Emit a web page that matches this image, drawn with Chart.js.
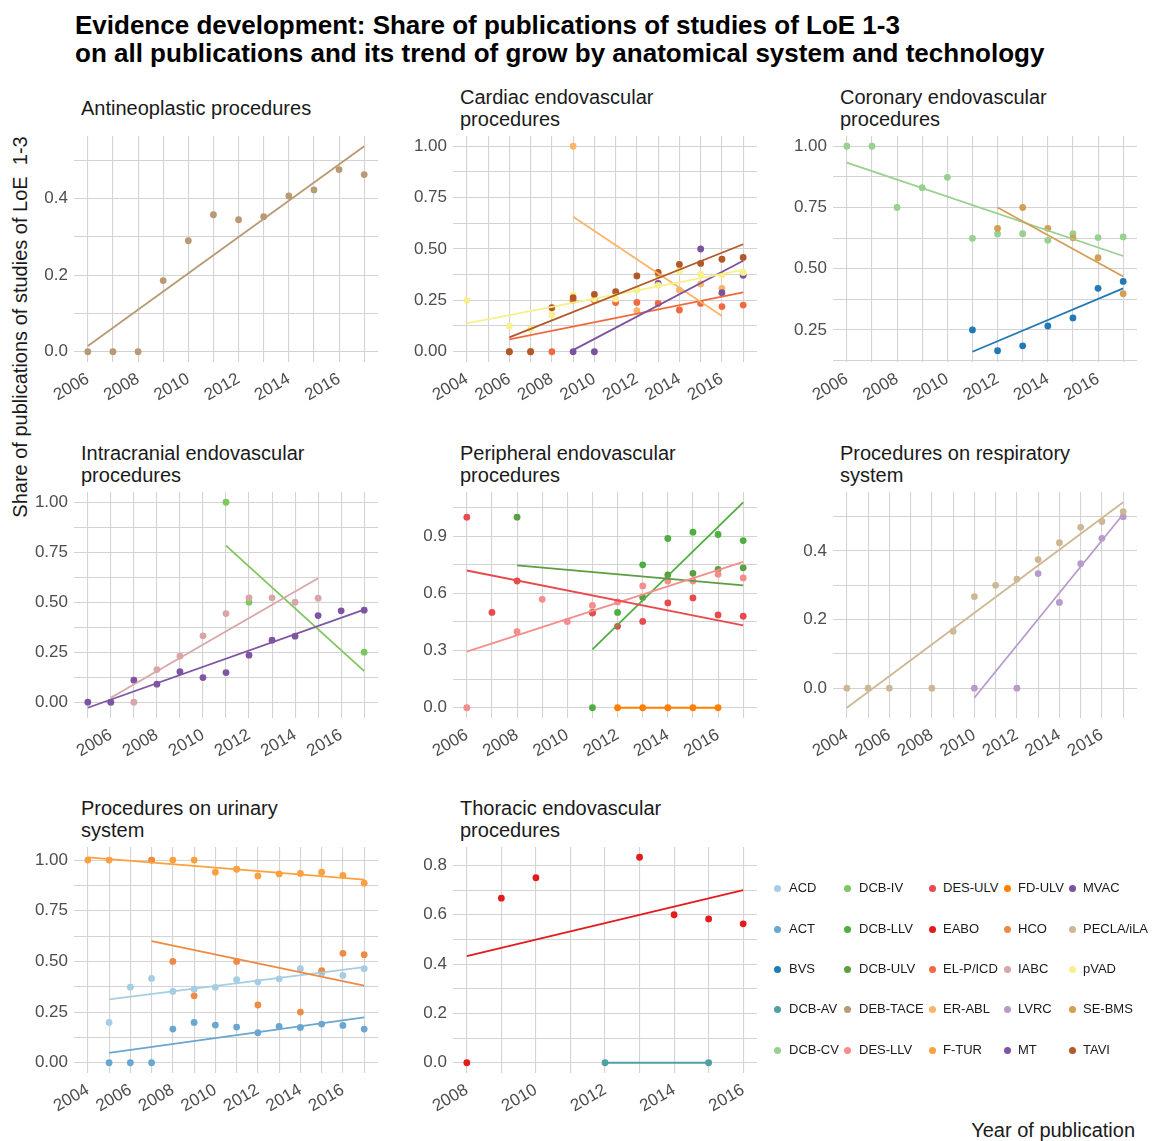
<!DOCTYPE html>
<html>
<head>
<meta charset="utf-8">
<script src="https://cdn.jsdelivr.net/npm/chart.js@4.4.1/dist/chart.umd.min.js"></script>
<style>
  body { margin: 0; width: 1152px; height: 1141px; background: #fff; position: relative; overflow: hidden;
         font-family: "Liberation Sans", Arial, sans-serif; }
  .abs { position: absolute; }
  #titulo { left: 75px; top: 11px; font-weight: bold; font-size: 26px; line-height: 28px; color: #000; white-space: pre; }
  .strip { font-size: 20px; line-height: 22px; color: #1a1a1a; white-space: pre; }
  #ytitle { left: 20px; top: 327px; font-size: 20px; color: #1a1a1a; white-space: pre;
            transform: translate(-50%, -50%) rotate(-90deg); }
  #xtitle { right: 17px; top: 1119px; font-size: 20px; color: #1a1a1a; }
  .dot { width: 7px; height: 7px; border-radius: 50%; }
  .ltxt { font-size: 13px; color: #1a1a1a; line-height: 16px; }
  canvas { position: absolute; }
</style>
</head>
<body>
<div id="titulo" class="abs">Evidence development: Share of publications of studies of LoE 1-3
on all publications and its trend of grow by anatomical system and technology</div>
<div id="ytitle" class="abs">Share of publications of studies of LoE  1-3</div>
<div id="xtitle" class="abs">Year of publication</div>

<script>
// technologies, in legend order
const techNames = ['ACD', 'ACT', 'BVS', 'DCB-AV', 'DCB-CV', 'DCB-IV', 'DCB-LLV', 'DCB-ULV', 'DEB-TACE', 'DES-LLV',
    'DES-ULV', 'EABO', 'EL-P/ICD', 'ER-ABL', 'F-TUR', 'FD-ULV', 'HCO', 'IABC', 'LVRC', 'MT',
    'MVAC', 'PECLA/iLA', 'pVAD', 'SE-BMS', 'TAVI'];
const techColors = ['#a6cee3', '#69a7d0', '#2279b5', '#4f9fa4', '#98d08f', '#7fc65f', '#4daf3f', '#5c9e42', '#b89a74', '#f68d8c',
    '#e94a4d', '#e31b1c', '#f16a3f', '#fcb466', '#fda03f', '#ff7f00', '#ee8a44', '#d9a6a8', '#b79bcc', '#7e55a3',
    '#7b52a0', '#cdb896', '#f7f08c', '#d59e55', '#b15928'];

const panelTitles = ['Antineoplastic procedures', 'Cardiac endovascular\nprocedures', 'Coronary endovascular\nprocedures',
    'Intracranial endovascular\nprocedures', 'Peripheral endovascular\nprocedures', 'Procedures on respiratory\nsystem',
    'Procedures on urinary\nsystem', 'Thoracic endovascular\nprocedures'];
const panelTechs = [
    ['DEB-TACE'],
    ['EL-P/ICD', 'ER-ABL', 'MVAC', 'pVAD', 'TAVI'],
    ['BVS', 'DCB-CV', 'SE-BMS'],
    ['DCB-IV', 'IABC', 'MT'],
    ['DCB-LLV', 'DCB-ULV', 'DES-LLV', 'DES-ULV', 'FD-ULV'],
    ['LVRC', 'PECLA/iLA'],
    ['ACD', 'ACT', 'F-TUR', 'HCO'],
    ['DCB-AV', 'EABO']
];
const yMajorStep = [0.2, 0.25, 0.25, 0.25, 0.3, 0.2, 0.25, 0.2];
const yDigits = [1, 2, 2, 2, 1, 1, 2, 1];

// share of LoE 1-3 publications per year, and the ends of the fitted trend line
const debTaceYears = [2006, 2007, 2008, 2009, 2010, 2011, 2012, 2013, 2014, 2015, 2016, 2017];
const debTaceShare = [0, 0, 0, 0.186, 0.29, 0.358, 0.345, 0.353, 0.407, 0.423, 0.476, 0.463];
const debTaceFit = [0.015, 0.537];

const elpYears = [2006, 2007, 2008, 2009, 2010, 2011, 2012, 2013, 2014, 2015, 2016, 2017];
const elpShare = [0, 0, 0, 0.25, 0.25, 0.239, 0.24, 0.235, 0.203, 0.235, 0.22, 0.227];
const elpFit = [0.06, 0.289];
const erAblYears = [2009, 2012, 2013, 2014, 2015, 2016];
const erAblShare = [1.0, 0.2, 0.375, 0.30, 0.33, 0.308];
const erAblFit = [0.657, 0.174];
const mvacYears = [2009, 2010, 2013, 2015, 2016, 2017];
const mvacShare = [0, 0, 0.333, 0.5, 0.287, 0.372];
const mvacFit = [0.008, 0.443];
const pvadYears = [2004, 2006, 2007, 2008, 2009, 2010, 2011, 2012, 2013, 2014, 2015, 2016, 2017];
const pvadShare = [0.25, 0.125, 0.111, 0.18, 0.276, 0.257, 0.257, 0.30, 0.323, 0.393, 0.378, 0.373, 0.386];
const pvadFit = [0.138, 0.398];
const taviYears = [2006, 2007, 2008, 2009, 2010, 2011, 2012, 2013, 2014, 2015, 2016, 2017];
const taviShare = [0, 0, 0.214, 0.263, 0.279, 0.292, 0.369, 0.386, 0.425, 0.43, 0.45, 0.459];
const taviFit = [0.07, 0.523];

const bvsYears = [2011, 2012, 2013, 2014, 2015, 2016, 2017];
const bvsShare = [0.25, 0.165, 0.185, 0.266, 0.299, 0.42, 0.448];
const bvsFit = [0.161, 0.42];
const dcbCvYears = [2006, 2007, 2008, 2009, 2010, 2011, 2012, 2013, 2014, 2015, 2016, 2017];
const dcbCvShare = [1, 1, 0.75, 0.831, 0.873, 0.624, 0.642, 0.643, 0.616, 0.643, 0.627, 0.63];
const dcbCvFit = [0.933, 0.552];
const seBmsYears = [2012, 2013, 2014, 2015, 2016, 2017];
const seBmsShare = [0.665, 0.75, 0.665, 0.626, 0.545, 0.398];
const seBmsFit = [0.75, 0.468];

const dcbIvYears = [2011, 2012, 2017];
const dcbIvShare = [1, 0.5, 0.25];
const dcbIvFit = [0.783, 0.155];
const iabcYears = [2006, 2007, 2008, 2009, 2010, 2011, 2012, 2013, 2014, 2015];
const iabcShare = [0, 0, 0.163, 0.23, 0.332, 0.443, 0.522, 0.522, 0.5, 0.52];
const iabcFit = [0.022, 0.62];
const mtYears = [2005, 2006, 2007, 2008, 2009, 2010, 2011, 2012, 2013, 2014, 2015, 2016, 2017];
const mtShare = [0, 0, 0.11, 0.09, 0.152, 0.123, 0.148, 0.235, 0.31, 0.33, 0.433, 0.457, 0.46];
const mtFit = [-0.028, 0.463];

const dcbLlvYears = [2011, 2012, 2013, 2014, 2015, 2016, 2017];
const dcbLlvShare = [0, 0.5, 0.75, 0.888, 0.921, 0.909, 0.877];
const dcbLlvFit = [0.306, 1.078];
const dcbUlvYears = [2008, 2011, 2013, 2014, 2015, 2016, 2017];
const dcbUlvShare = [1, 0.5, 0.579, 0.697, 0.705, 0.726, 0.734];
const dcbUlvFit = [0.747, 0.642];
const desLlvYears = [2006, 2008, 2009, 2010, 2011, 2012, 2013, 2014, 2015, 2016, 2017];
const desLlvShare = [0, 0.399, 0.569, 0.452, 0.537, 0.555, 0.639, 0.665, 0.665, 0.70, 0.681];
const desLlvFit = [0.294, 0.765];
const desUlvYears = [2006, 2007, 2008, 2011, 2012, 2013, 2014, 2015, 2016, 2017];
const desUlvShare = [1, 0.5, 0.665, 0.497, 0.427, 0.453, 0.55, 0.576, 0.487, 0.48];
const desUlvFit = [0.72, 0.432];
const fdUlvYears = [2012, 2013, 2014, 2015, 2016];
const fdUlvShare = [0, 0, 0, 0, 0];
const fdUlvFit = [0, 0];

const lvrcYears = [2010, 2012, 2013, 2014, 2015, 2016, 2017];
const lvrcShare = [0, 0, 0.334, 0.25, 0.363, 0.437, 0.5];
const lvrcFit = [-0.028, 0.507];
const peclaYears = [2004, 2005, 2006, 2008, 2009, 2010, 2011, 2012, 2013, 2014, 2015, 2016, 2017];
const peclaShare = [0, 0, 0, 0, 0.166, 0.267, 0.30, 0.318, 0.375, 0.424, 0.469, 0.486, 0.515];
const peclaFit = [-0.057, 0.542];

const acdYears = [2005, 2006, 2007, 2008, 2009, 2010, 2011, 2012, 2013, 2014, 2015, 2016, 2017];
const acdShare = [0.199, 0.373, 0.416, 0.352, 0.363, 0.372, 0.41, 0.398, 0.414, 0.464, 0.442, 0.431, 0.464];
const acdFit = [0.3125, 0.472];
const actYears = [2005, 2006, 2007, 2008, 2009, 2010, 2011, 2012, 2013, 2014, 2015, 2016, 2017];
const actShare = [0, 0, 0, 0.166, 0.199, 0.186, 0.176, 0.148, 0.179, 0.174, 0.191, 0.184, 0.166];
const actFit = [0.049, 0.224];
const fTurYears = [2004, 2005, 2007, 2008, 2009, 2010, 2011, 2012, 2013, 2014, 2015, 2016, 2017];
const fTurShare = [1, 1, 1, 1, 1, 0.94, 0.955, 0.922, 0.932, 0.934, 0.94, 0.925, 0.886];
const fTurFit = [1.014, 0.904];
const hcoYears = [2007, 2008, 2009, 2011, 2012, 2014, 2015, 2016, 2017];
const hcoShare = [1, 0.5, 0.33, 0.5, 0.285, 0.25, 0.455, 0.54, 0.533];
const hcoFit = [0.6, 0.38];

const dcbAvYears = [2012, 2015];
const dcbAvShare = [0, 0];
const dcbAvFit = [0, 0];
const eaboYears = [2008, 2009, 2010, 2013, 2014, 2015, 2016];
const eaboShare = [0, 0.667, 0.75, 0.833, 0.6, 0.583, 0.563];
const eaboFit = [0.432, 0.70];

const seriesData = {
    'DEB-TACE': [debTaceYears, debTaceShare, debTaceFit],
    'EL-P/ICD': [elpYears, elpShare, elpFit],
    'ER-ABL': [erAblYears, erAblShare, erAblFit],
    'MVAC': [mvacYears, mvacShare, mvacFit],
    'pVAD': [pvadYears, pvadShare, pvadFit],
    'TAVI': [taviYears, taviShare, taviFit],
    'BVS': [bvsYears, bvsShare, bvsFit],
    'DCB-CV': [dcbCvYears, dcbCvShare, dcbCvFit],
    'SE-BMS': [seBmsYears, seBmsShare, seBmsFit],
    'DCB-IV': [dcbIvYears, dcbIvShare, dcbIvFit],
    'IABC': [iabcYears, iabcShare, iabcFit],
    'MT': [mtYears, mtShare, mtFit],
    'DCB-LLV': [dcbLlvYears, dcbLlvShare, dcbLlvFit],
    'DCB-ULV': [dcbUlvYears, dcbUlvShare, dcbUlvFit],
    'DES-LLV': [desLlvYears, desLlvShare, desLlvFit],
    'DES-ULV': [desUlvYears, desUlvShare, desUlvFit],
    'FD-ULV': [fdUlvYears, fdUlvShare, fdUlvFit],
    'LVRC': [lvrcYears, lvrcShare, lvrcFit],
    'PECLA/iLA': [peclaYears, peclaShare, peclaFit],
    'ACD': [acdYears, acdShare, acdFit],
    'ACT': [actYears, actShare, actFit],
    'F-TUR': [fTurYears, fTurShare, fTurFit],
    'HCO': [hcoYears, hcoShare, hcoFit],
    'DCB-AV': [dcbAvYears, dcbAvShare, dcbAvFit],
    'EABO': [eaboYears, eaboShare, eaboFit]
};

// layout of the facet grid
const colLeft = [74, 453, 833];
const rowTop = [136, 492, 847];
const plotW = 304, plotH = 226;
const axisW = 64, axisH = 60;
const padTop = 24, padRight = 12;
const gridColor = '#d3d3d3';
const tickColor = '#4d4d4d';
const tickFont = { family: '"Liberation Sans", Arial, sans-serif', size: 17 };

function agregar(tag, cls, txt, left, top) {
    const el = document.createElement(tag);
    el.className = cls;
    if (txt) el.textContent = txt;
    el.style.left = left + 'px';
    el.style.top = top + 'px';
    document.body.appendChild(el);
    return el;
}

panelTitles.forEach((titulo, p) => {
    const col = p % 3, row = Math.floor(p / 3);
    const left = colLeft[col], top = rowTop[row];
    const lineas = titulo.split('\n').length;
    agregar('div', 'abs strip', titulo, left + 7, top - 28 - lineas * 11);

    const techs = panelTechs[p];
    let xs = [], ys = [];
    techs.forEach(n => {
        const [yr, sh, fit] = seriesData[n];
        xs.push(...yr);
        ys.push(...sh, ...fit);
    });
    const x0 = Math.min(...xs), x1 = Math.max(...xs);
    const y0 = Math.min(...ys), y1 = Math.max(...ys);
    const xMin = x0 - (x1 - x0) * 0.05, xMax = x1 + (x1 - x0) * 0.05;
    const yMin = y0 - (y1 - y0) * 0.05, yMax = y1 + (y1 - y0) * 0.05;

    let xTicks = [];
    for (let v = Math.ceil(xMin); v <= xMax; v++) xTicks.push(v);
    const half = yMajorStep[p] / 2;
    let yTicks = [];
    for (let k = Math.ceil(yMin / half - 1e-9); k * half <= yMax + 1e-9; k++) yTicks.push(k * half);

    const datasets = [];
    techs.forEach((n, g) => {
        const [yr, sh, fit] = seriesData[n];
        const color = techColors[techNames.indexOf(n)];
        datasets.push({
            data: yr.map((y, i) => ({ x: y, y: sh[i] })),
            showLine: false, pointRadius: 3.4, pointBorderWidth: 0,
            backgroundColor: color, borderColor: color, order: -g
        });
        datasets.push({
            data: [{ x: yr[0], y: fit[0] }, { x: yr[yr.length - 1], y: fit[1] }],
            showLine: true, pointRadius: 0, borderWidth: 1.8,
            borderColor: color, fill: false, order: -(100 + g)
        });
    });

    const canvas = document.createElement('canvas');
    canvas.width = axisW + plotW + padRight;
    canvas.height = padTop + plotH + axisH;
    canvas.style.left = (left - axisW) + 'px';
    canvas.style.top = (top - padTop) + 'px';
    document.body.appendChild(canvas);

    new Chart(canvas, {
        type: 'scatter',
        data: { datasets },
        options: {
            animation: false, responsive: false, events: [],
            layout: { padding: { top: padTop, right: padRight, left: 0, bottom: 0 }, autoPadding: false },
            plugins: { legend: { display: false }, tooltip: { enabled: false } },
            scales: {
                x: {
                    type: 'linear', min: xMin, max: xMax,
                    border: { display: false },
                    grid: { color: gridColor, lineWidth: 1.1, drawTicks: false },
                    ticks: {
                        autoSkip: false, minRotation: 30, maxRotation: 30, padding: 7,
                        color: tickColor, font: tickFont,
                        callback: v => (Math.round(v) % 2 === 0 ? String(Math.round(v)) : '')
                    },
                    afterBuildTicks: a => { a.ticks = xTicks.map(v => ({ value: v })); },
                    afterFit: a => { a.height = axisH; }
                },
                y: {
                    type: 'linear', min: yMin, max: yMax,
                    border: { display: false },
                    grid: { color: gridColor, lineWidth: 1.1, drawTicks: false },
                    ticks: {
                        autoSkip: false, padding: 6, color: tickColor, font: tickFont,
                        callback: v => (Math.round(v / half) % 2 === 0 ? v.toFixed(yDigits[p]) : '')
                    },
                    afterBuildTicks: a => { a.ticks = yTicks.map(v => ({ value: v })); },
                    afterFit: a => { a.width = axisW; }
                }
            }
        }
    });
});

// legend: five columns, filled down
const legDotX = [777, 847, 932, 1007, 1072];
const legTxtX = [789, 859, 943, 1018, 1083];
const legY = [888, 929, 969, 1009, 1050];
techNames.forEach((n, i) => {
    const c = Math.floor(i / 5), r = i % 5;
    const d = agregar('div', 'abs dot', '', legDotX[c] - 3.5, legY[r] - 3.5);
    d.style.background = techColors[i];
    agregar('div', 'abs ltxt', n, legTxtX[c], legY[r] - 8);
});
</script>
</body>
</html>
